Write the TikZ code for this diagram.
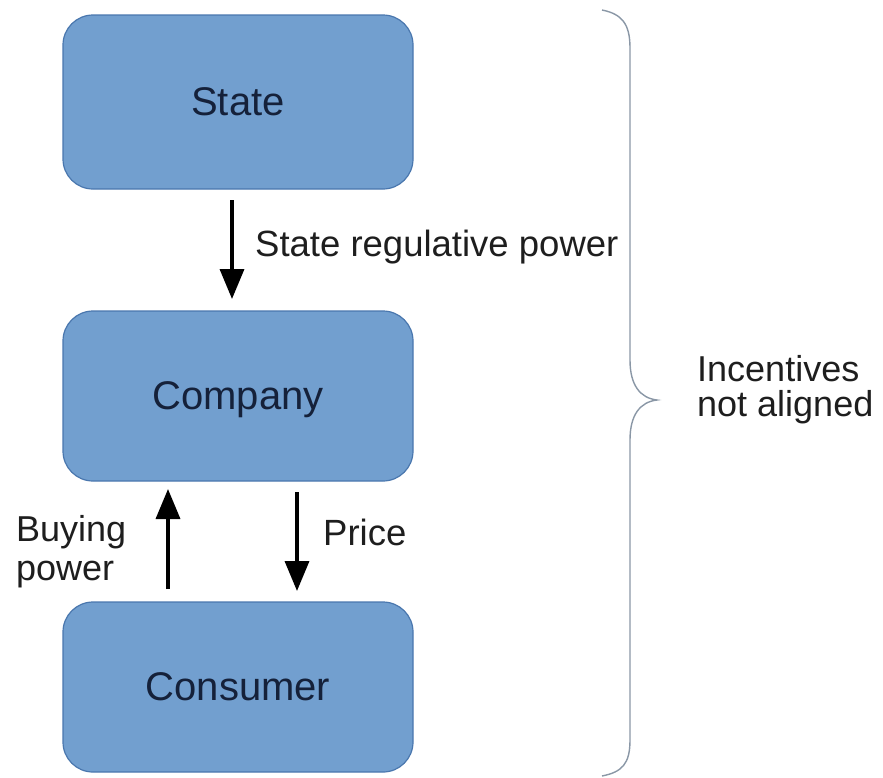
\documentclass[tikz,border=0pt]{standalone}
\usepackage{fontspec}
\setmainfont{Liberation Sans}
\usetikzlibrary{arrows.meta}
\definecolor{boxfill}{HTML}{729FCF}
\definecolor{boxline}{HTML}{4A77AE}
\definecolor{boxtext}{HTML}{15213A}
\definecolor{labtext}{HTML}{1E1E1E}
\definecolor{bracecol}{HTML}{8A97A6}
\begin{document}
\begin{tikzpicture}[x=1pt,y=-1pt,
  boxstyle/.style={draw=boxline,line width=1.2pt,fill=boxfill,rounded corners=30pt,
    minimum width=350pt,minimum height=174pt,inner sep=0pt,text=boxtext,
    font=\fontsize{40}{44}\selectfont},
  labstyle/.style={text=labtext,font=\fontsize{36.5}{40}\selectfont,inner sep=0pt},
  flow/.style={line width=3.5pt,-{Triangle[length=30pt,width=24pt]}}]
\useasboundingbox (0,0) rectangle (883,777);
\node[boxstyle] (state) at (238,102) {State};
\node[boxstyle,minimum height=170pt] (company) at (238,396) {};
\node[text=boxtext,font=\fontsize{40}{44}\selectfont,inner sep=0pt] (tcompany) at (238,400) {Company};
\node[boxstyle,minimum height=170pt] (consumer) at (238,687) {Consumer};
\coordinate (s1) at (232,200);
\coordinate (s2) at (232,299);
\draw[flow] (s1) -- (s2);
\coordinate (b1) at (168,589);
\coordinate (b2) at (168,489);
\draw[flow] (b1) -- (b2);
\coordinate (p1) at (297,492);
\coordinate (p2) at (297,591);
\draw[flow] (p1) -- (p2);
\node[labstyle,anchor=west] (lreg) at (255,247) {State regulative power};
\node[labstyle,anchor=west,align=left,font=\fontsize{36}{39}\selectfont] (lbuy) at (16,552) {Buying\\power};
\node[labstyle,anchor=west] (lprice) at (323,532) {Price};
\node[labstyle,anchor=west,align=left,font=\fontsize{36}{35}\selectfont] (linc) at (697,390) {Incentives\\not aligned};
\draw[bracecol,line width=1.4pt]
  (602,10) .. controls (622,14) and (630,24) .. (630,48)
  -- (630,360) .. controls (630,385) and (640,398) .. (657,400)
  .. controls (640,402) and (630,415) .. (630,440)
  -- (630,740) .. controls (630,764) and (622,772) .. (602,776);
\end{tikzpicture}
\end{document}
